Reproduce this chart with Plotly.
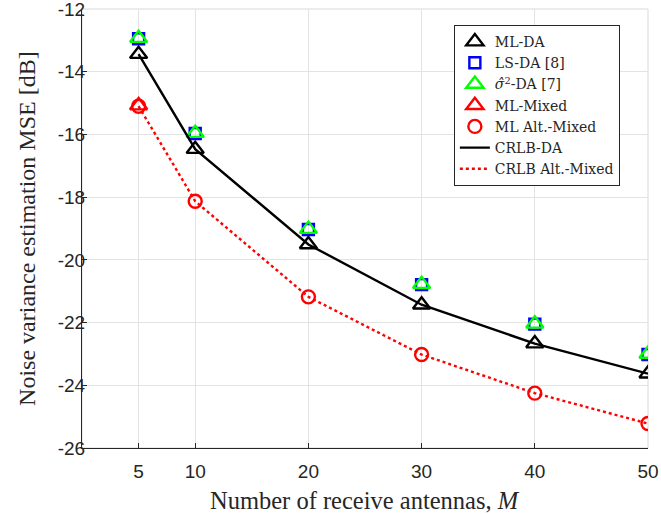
import plotly.graph_objects as go

M = [5, 10, 20, 30, 40, 50]
ml_da = [-13.44, -16.47, -19.51, -21.43, -22.67, -23.63]
ls_da = [-12.95, -15.97, -19.03, -20.79, -22.05, -23.02]
sig_da = [-12.93, -15.96, -19.02, -20.78, -22.04, -23.0]
ml_mixed_M = [5]
ml_mixed = [-15.08]
ml_alt_mixed = [-15.1, -18.13, -21.18, -23.02, -24.25, -25.22]
crlb_da = [-13.44, -16.47, -19.51, -21.43, -22.67, -23.63]
crlb_alt_mixed = [-15.1, -18.13, -21.18, -23.02, -24.25, -25.22]

x_ticks = [5, 10, 20, 30, 40, 50]
y_ticks = [-12, -14, -16, -18, -20, -22, -24, -26]

serif = "Liberation Serif, Times New Roman, serif"
legend_serif = "DejaVu Serif, serif"
sans = "Liberation Sans, Arial, sans-serif"
ink = "#262626"

fig = go.Figure()
fig.add_trace(go.Scatter(x=M, y=ml_da, mode="markers", name="ML-DA",
                         marker=dict(symbol="triangle-up-open", size=15, color="black", line=dict(width=2.4))))
fig.add_trace(go.Scatter(x=M, y=ls_da, mode="markers", name="LS-DA [8]",
                         marker=dict(symbol="square-open", size=11, color="#0000ff", line=dict(width=2.4))))
fig.add_trace(go.Scatter(x=M, y=sig_da, mode="markers", name="<i>σ\u0302</i><sup>2</sup>-DA [7]",
                         marker=dict(symbol="triangle-up-open", size=15, color="#00ff00", line=dict(width=2.4))))
fig.add_trace(go.Scatter(x=ml_mixed_M, y=ml_mixed, mode="markers", name="ML-Mixed",
                         marker=dict(symbol="triangle-up-open", size=15, color="#ff0000", line=dict(width=2.4))))
fig.add_trace(go.Scatter(x=M, y=ml_alt_mixed, mode="markers", name="ML Alt.-Mixed",
                         marker=dict(symbol="circle-open", size=13, color="#ff0000", line=dict(width=2.4))))
fig.add_trace(go.Scatter(x=M, y=crlb_da, mode="lines", name="CRLB-DA",
                         line=dict(color="black", width=2.4)))
fig.add_trace(go.Scatter(x=M, y=crlb_alt_mixed, mode="lines", name="CRLB Alt.-Mixed",
                         line=dict(color="#ff0000", width=2.4, dash="dot")))

fig.update_layout(
    width=661, height=515,
    margin=dict(l=82, r=13, t=9, b=67),
    plot_bgcolor="white", paper_bgcolor="white",
    showlegend=True,
    legend=dict(x=0.657, y=0.9636, xanchor="left", yanchor="top",
                bgcolor="white", bordercolor=ink, borderwidth=1,
                font=dict(family=legend_serif, size=14, color=ink),
                tracegroupgap=0, itemwidth=30),
    shapes=[dict(type="rect", xref="paper", yref="paper", x0=0, x1=1, y0=0, y1=1,
                 line=dict(color="#d9d9d9", width=1), layer="below")],
    annotations=[
        dict(text="Number of receive antennas, <i>M</i>", xref="paper", yref="paper",
             x=0.5, y=-0.085, xanchor="center", yanchor="top", showarrow=False,
             font=dict(family=serif, size=24.5, color=ink)),
        dict(text="Noise variance estimation MSE [dB]", xref="paper", yref="paper",
             x=-0.1, y=0.5, xanchor="center", yanchor="middle", showarrow=False,
             textangle=-90, xshift=1,
             font=dict(family=serif, size=24, color=ink)),
    ],
)
fig.update_xaxes(range=[0, 50], tickvals=x_ticks, ticktext=[str(v) for v in x_ticks],
                 automargin=False, ticklabeloverflow="allow", ticklabelstandoff=6,
                 showgrid=True, gridcolor="#e3e3e3", gridwidth=1,
                 showline=True, linecolor=ink, linewidth=1,
                 ticks="inside", ticklen=5, tickcolor=ink,
                 tickfont=dict(family=sans, size=19, color=ink),
                 zeroline=False)
fig.update_yaxes(range=[-26, -12], tickvals=y_ticks, ticktext=[str(v) for v in y_ticks],
                 automargin=False, ticklabeloverflow="allow", ticklabelstandoff=-8,
                 showgrid=True, gridcolor="#e3e3e3", gridwidth=1,
                 showline=True, linecolor=ink, linewidth=1,
                 ticks="inside", ticklen=5, tickcolor=ink,
                 tickfont=dict(family=sans, size=19, color=ink),
                 zeroline=False)

fig.write_html("out.html", config={"displayModeBar": False},
               post_script="document.body.style.margin='0';document.body.style.overflow='hidden';")
